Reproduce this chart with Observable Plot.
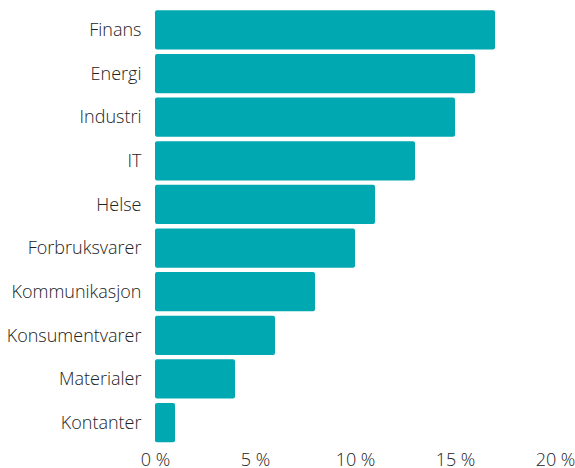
<!DOCTYPE html>
<html>
<head>
<meta charset="utf-8">
<script src="https://cdn.jsdelivr.net/npm/d3@7"></script>
<script src="https://cdn.jsdelivr.net/npm/@observablehq/plot@0.6"></script>
<style>
  html, body { margin: 0; padding: 0; background: #fff; }
  svg { font-family: "Open Sans", sans-serif; }
</style>
</head>
<body>
<div id="chart"></div>
<script>
const sectors = ["Finans", "Energi", "Industri", "IT", "Helse", "Forbruksvarer", "Kommunikasjon", "Konsumentvarer", "Materialer", "Kontanter"];
const shares = [17, 16, 15, 13, 11, 10, 8, 6, 4, 1];
const xTicks = [0, 5, 10, 15, 20];

const data = sectors.map((s, i) => ({sector: s, value: shares[i]}));

const chart = Plot.plot({
  width: 575,
  height: 468,
  marginLeft: 155,
  marginRight: 20,
  marginTop: 6,
  marginBottom: 21.5,
  style: {fontFamily: "Open Sans, sans-serif", fontSize: "18px", fontWeight: 300, color: "#222", background: "#fff"},
  x: {domain: [0, 20], ticks: xTicks, tickFormat: d => `${d} %`, tickSize: 0, tickPadding: 6, label: null},
  y: {domain: sectors, padding: 0.1, round: false, tickSize: 0, tickPadding: 14, label: null},
  marks: [
    Plot.barX(data, {x: "value", y: "sector", fill: "#00A9B1", rx: 2})
  ]
});
document.getElementById("chart").appendChild(chart);
</script>
</body>
</html>
